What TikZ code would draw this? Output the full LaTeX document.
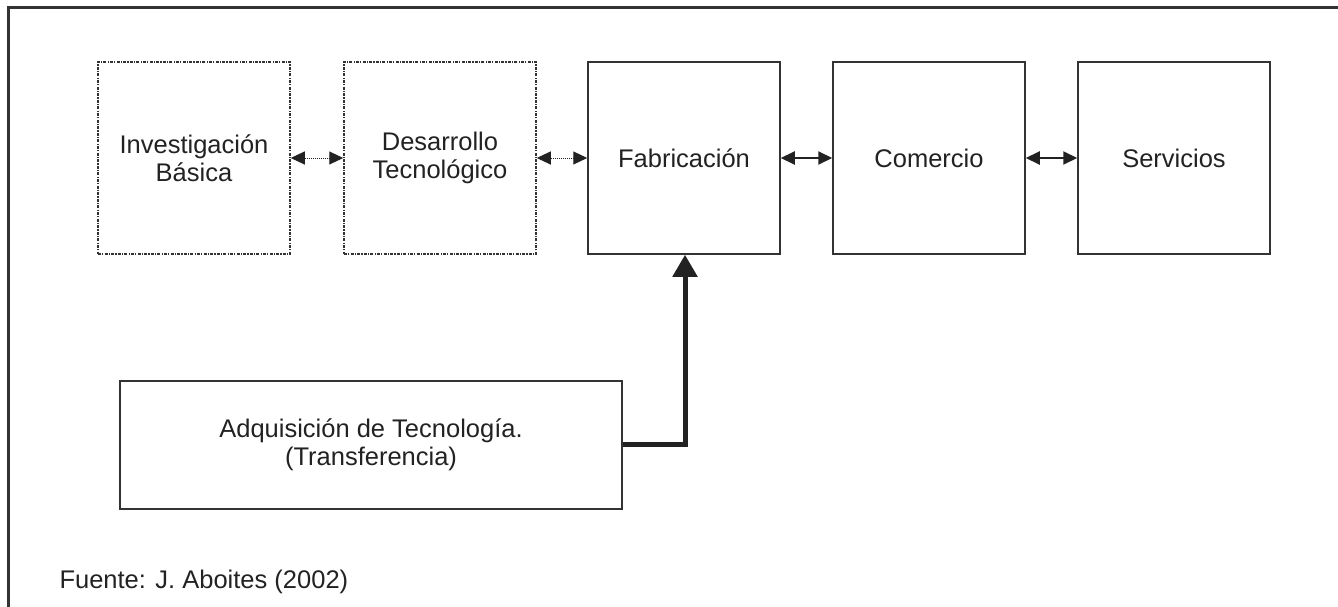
\documentclass[tikz,border=0pt]{standalone}
\usepackage{fontspec}
\setmainfont{Liberation Sans}
\usetikzlibrary{arrows.meta}
\definecolor{ink}{HTML}{222222}
\definecolor{edge}{HTML}{333333}
\begin{document}
\begin{tikzpicture}[x=1pt,y=-1pt,
  font=\fontsize{25.5}{28}\selectfont,
  every node/.style={text=ink},
  stage/.style={draw=edge,line width=1.5pt,minimum width=192pt,minimum height=192pt,
    align=center,inner sep=0pt},
  dotbox/.style={stage,dash pattern=on 3pt off 1.2pt on 1.2pt off 1.2pt},
  link/.style={draw=ink,line width=2pt,
    {Triangle[length=14pt,width=13pt]}-{Triangle[length=14pt,width=13pt]}},
  dotlink/.style={link,line width=1pt,dash pattern=on 1pt off 1pt},
  feed/.style={draw=ink,line width=5pt,-{Triangle[length=22pt,width=24pt]}}
]
\useasboundingbox (0,0) rectangle (1338,607);
% frame
\draw[edge,line width=3pt] (8,607) -- (8,8) -- (1338,8);
% chain of stages
\node[dotbox] (inv) at (194,158) {Investigación\\Básica};
\node[dotbox] (des) at (440,158) {Desarrollo\\Tecnológico};
\node[stage] (fab) at (684,158) {Fabricación};
\node[stage] (com) at (929,158) {Comercio};
\node[stage] (ser) at (1174,158) {Servicios};
\draw[dotlink] (inv) -- (des);
\draw[dotlink] (des) -- (fab);
\draw[link] (fab) -- (com);
\draw[link] (com) -- (ser);
% technology acquisition
\node[draw=edge,line width=1.5pt,minimum width=502pt,minimum height=128pt,
  inner sep=0pt,align=center] (adq) at (371,445) {Adquisición de Tecnología.\\(Transferencia)};
\coordinate (bend) at (685,444);
\draw[feed] (adq.east |- bend) -- (bend) -- (fab.south -| bend);
% source note
\node[anchor=west] (src) at (56,582) {Fuente: J. Aboites (2002)};
\end{tikzpicture}
\end{document}
